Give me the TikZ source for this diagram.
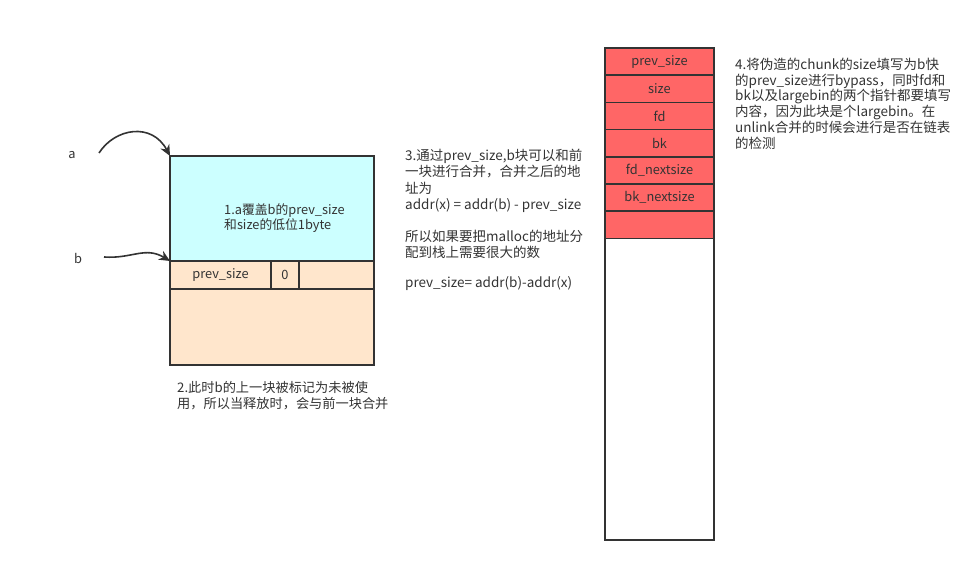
\documentclass[tikz,border=0pt]{standalone}
\usepackage{fontspec}
\setmainfont{Noto Sans CJK SC}
\usetikzlibrary{arrows.meta}
\definecolor{bordc}{HTML}{333333}
\definecolor{cyanf}{HTML}{CCFFFF}
\definecolor{peachf}{HTML}{FFE6CC}
\definecolor{redf}{HTML}{FF6666}
\definecolor{txtc}{HTML}{333333}
\tikzset{
  cell/.style={draw=bordc, line width=1.6pt, anchor=north west, inner sep=0pt, outer sep=0pt, text=txtc, font=\fontsize{12.8}{14}\selectfont},
  redcell/.style={cell, fill=redf, minimum width=109pt, minimum height=27.2pt},
  note/.style={anchor=north west, align=left, inner sep=0pt, text=txtc, font=\fontsize{13.5}{16.2}\selectfont},
  ptr/.style={draw=bordc, line width=1.6pt, -{Stealth[length=11pt,width=10pt]}},
  lbl/.style={text=txtc, font=\fontsize{12.8}{14}\selectfont, inner sep=0pt}
}
\begin{document}
\begin{tikzpicture}[x=1pt,y=-1pt]
\useasboundingbox (0,0) rectangle (978,572);
% left chunk
\node[cell, fill=cyanf, minimum width=204pt, minimum height=105pt] (achunk) at (170,156) {};
\node[cell, fill=peachf, minimum width=101pt, minimum height=28pt] (bprev) at (170,261) {prev\_size};
\node[cell, fill=peachf, minimum width=28pt, minimum height=28pt] (bzero) at (271,261) {0};
\node[cell, fill=peachf, minimum width=75pt, minimum height=28pt] (bsize) at (299,261) {};
\node[cell, fill=peachf, minimum width=204pt, minimum height=76pt] (bbody) at (170,289) {};
\node[anchor=north west, align=left, inner sep=0pt, text=txtc, font=\fontsize{12.8}{15}\selectfont] (note1) at (224,203) {1.a覆盖b的prev\_size\\和size的低位1byte};
% pointers
\node[lbl] (alab) at (72,155) {a};
\node[lbl] (blab) at (78,258) {b};
\coordinate (astart) at (99,153);
\coordinate (bstart) at (104,257);
\draw[ptr] (astart) .. controls (115,128) and (152,122) .. (achunk.north west);
\draw[ptr] (bstart) .. controls (132,259) and (145,246) .. (bprev.north west);
% notes
\node[note, font=\fontsize{13.2}{16}\selectfont] (note2) at (177,381) {2.此时b的上一块被标记为未被使\\用，所以当释放时，会与前一块合并};
\node[note] (note3) at (405,149) {3.通过prev\_size,b块可以和前\\一块进行合并，合并之后的地\\址为\\addr(x) = addr(b) - prev\_size\\[16pt]所以如果要把malloc的地址分\\配到栈上需要很大的数\\[14pt]prev\_size= addr(b)-addr(x)};
\node[note, font=\fontsize{13.5}{15.7}\selectfont] (note4) at (735,58) {4.将伪造的chunk的size填写为b快\\的prev\_size进行bypass，同时fd和\\bk以及largebin的两个指针都要填写\\内容，因为此块是个largebin。在\\unlink合并的时候会进行是否在链表\\的检测};
% fake chunk column
\node[cell, fill=white, minimum width=109pt, minimum height=302pt] (fbody) at (605,238) {};
\node[redcell] (f1) at (605,48) {prev\_size};
\node[redcell] (f2) at (605,75.2) {size};
\node[redcell] (f3) at (605,102.4) {fd};
\node[redcell] (f4) at (605,129.6) {bk};
\node[redcell] (f5) at (605,156.8) {fd\_nextsize};
\node[redcell] (f6) at (605,184) {bk\_nextsize};
\node[redcell] (f7) at (605,211.2) {};
\end{tikzpicture}
\end{document}
